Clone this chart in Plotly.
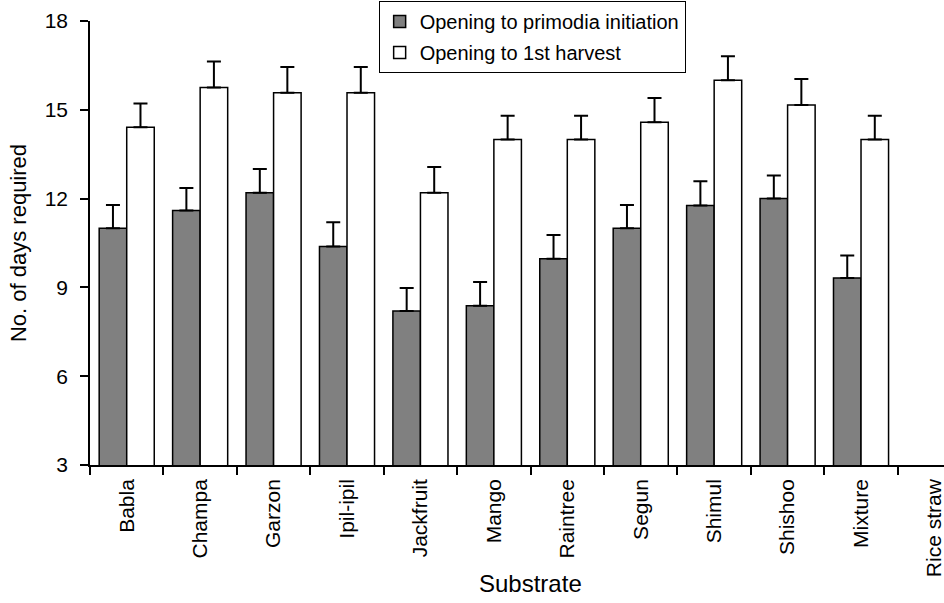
import plotly.graph_objects as go

categories = ["Babla", "Champa", "Garzon", "Ipil-ipil", "Jackfruit", "Mango",
              "Raintree", "Segun", "Shimul", "Shishoo", "Mixture", "Rice straw"]
primodia = [11.0, 11.6, 12.2, 10.38, 8.2, 8.38, 9.97, 11.0, 11.77, 12.0, 9.32, None]
primodia_err = [0.78, 0.76, 0.8, 0.82, 0.78, 0.8, 0.8, 0.78, 0.82, 0.78, 0.76, None]
harvest = [14.41, 15.75, 15.58, 15.58, 12.2, 14.0, 14.0, 14.58, 16.0, 15.16, 14.0, None]
harvest_err = [0.8, 0.88, 0.87, 0.87, 0.87, 0.8, 0.8, 0.82, 0.81, 0.88, 0.8, None]

font_family = "Liberation Sans, Arial, Helvetica, sans-serif"

fig = go.Figure()
fig.add_trace(go.Bar(
    name="Opening to primodia initiation", x=categories, y=primodia,
    legendgroup="a",
    marker=dict(color="#808080", line=dict(color="black", width=1.5)),
    error_y=dict(type="data", array=primodia_err, symmetric=False,
                 arrayminus=[0]*len(categories), color="black", thickness=2, width=7),
))
fig.add_trace(go.Bar(
    name="Opening to 1st harvest", x=categories, y=harvest,
    legendgroup="b",
    marker=dict(color="white", line=dict(color="black", width=1.5)),
    error_y=dict(type="data", array=harvest_err, symmetric=False,
                 arrayminus=[0]*len(categories), color="black", thickness=2, width=7),
))

fig.update_layout(
    width=944, height=603,
    margin=dict(l=90, r=0, t=21, b=138),
    paper_bgcolor="white", plot_bgcolor="white",
    barmode="group", bargap=0.25, bargroupgap=0,
    font=dict(family=font_family, color="black", size=20),
    legend=dict(x=0.338, y=1.045, xanchor="left", yanchor="top",
                bordercolor="black", borderwidth=1, bgcolor="white",
                font=dict(size=20), tracegroupgap=2, itemwidth=30,
                traceorder="grouped"),
    showlegend=True,
    annotations=[dict(text="Substrate", x=5.5, xref="x", y=-0.268, yref="paper",
                      xanchor="center", yanchor="middle", showarrow=False,
                      font=dict(size=24))],
)
fig.update_xaxes(
    type="category", range=[-0.5, 11.13], automargin=False,
    showline=True, linecolor="black", linewidth=1.5,
    ticks="outside", tickson="boundaries", ticklen=8, tickcolor="black", tickwidth=1.5,
    tickangle=-90, tickfont=dict(size=21), ticklabelstandoff=4,
    showgrid=False,
)
fig.update_yaxes(
    range=[3, 18], tickvals=[3, 6, 9, 12, 15, 18], automargin=False,
    showline=True, linecolor="black", linewidth=1.5,
    ticks="outside", ticklen=8, tickcolor="black", tickwidth=1.5,
    tickfont=dict(size=21), ticklabelstandoff=8, showgrid=False, zeroline=False,
    title=dict(text="No. of days required", font=dict(size=22), standoff=12),
)

# remove the browser's default 8px body margin so the figure fills the window
fig.write_html("out.html", config={"displayModeBar": False},
               post_script="document.body.style.margin='0';")
